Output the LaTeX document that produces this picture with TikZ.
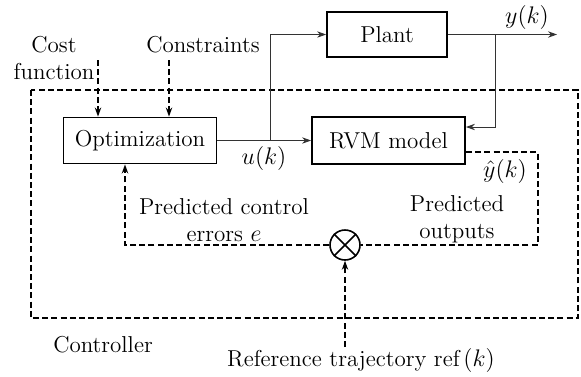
\documentclass[tikz,border=0pt]{standalone}
\usetikzlibrary{arrows.meta,calc}
\begin{document}
\begin{tikzpicture}[x=0.5pt,y=-0.5pt,
  font=\fontsize{11.5}{13.5}\selectfont,
  blockbox/.style={draw,line width=0.9pt,inner sep=0pt},
  wire/.style={line width=0.45pt,draw=black!80},
  dashwire/.style={line width=0.65pt,dash pattern=on 3pt off 1.6pt},
  tip/.style={-{Stealth[length=4.5pt,width=3.2pt]}},
  lbl/.style={inner sep=0pt,align=center}]
\useasboundingbox (0,0) rectangle (581,376);

% controller frame
\draw[dashwire] (31,90) rectangle (578,318);

% blocks
\node[blockbox,minimum width=60pt,minimum height=22.5pt] (plant) at (387,34.5) {Plant};
\node[blockbox,minimum width=76.5pt,minimum height=23pt] (opt) at (140,140.5) {Optimization};
\node[blockbox,minimum width=76.5pt,minimum height=23.5pt] (rvm) at (388.5,140.5) {RVM model};
\node[draw,circle,line width=0.8pt,minimum size=15pt,inner sep=0pt] (sum) at (345,245) {};
\draw[line width=0.8pt] (sum.north west) -- (sum.south east) (sum.north east) -- (sum.south west);

% labels
\node[lbl] (cost) at (54,58) {Cost\\function};
\node[lbl] (cons) at (203,45) {Constraints};
\node[lbl] (uk) at (264,158) {$u(k)$};
\node[lbl] (yk) at (527,17) {$y(k)$};
\node[lbl] (yhat) at (505,171) {$\hat{y}(k)$};
\node[lbl] (pce) at (224,220) {Predicted control\\errors $e$};
\node[lbl] (pout) at (457,219) {Predicted\\outputs};
\node[lbl] (ctrl) at (103,345) {Controller};
\node[lbl] (reftxt) at (361,360) {Reference trajectory ref\,$(k)$};

% coordinates of branch points and free ends
\coordinate (ub) at (270,140.5);
\coordinate (yb) at (495,34.5);
\coordinate (yend) at (557,34.5);
\coordinate (yin) at (465,127);
\coordinate (yhout) at (465,152);
\coordinate (yhc) at (538,152);
\coordinate (erc) at (125,245);
\coordinate (costs) at (98,60);
\coordinate (conss) at (169,60);
\coordinate (refs) at (345,347);

% solid signal paths
\draw[wire,tip] (opt.east) -- (rvm.west);
\draw[wire,tip] (ub) |- (plant.west);
\draw[wire,tip] (plant.east) -- (yend);
\draw[wire,tip] (yb) |- (rvm.east |- yin);

% dashed signal paths
\draw[dashwire,tip] (costs) -- (costs |- opt.north);
\draw[dashwire,tip] (conss) -- (conss |- opt.north);
\draw[dashwire] (rvm.east |- yhout) -- (yhc) |- (sum.east);
\draw[dashwire,tip] (sum.west) -- (erc) -- (erc |- opt.south);
\draw[dashwire,tip] (refs) -- (sum.south);
\end{tikzpicture}
\end{document}
